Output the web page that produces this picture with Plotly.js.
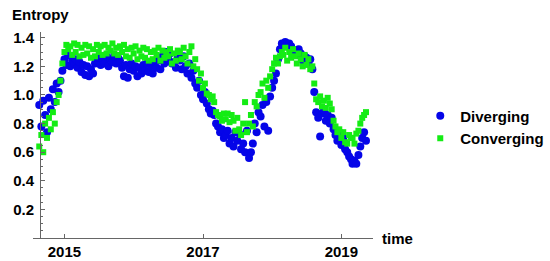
<!DOCTYPE html>
<html>
<head>
<meta charset="utf-8">
<script src="https://cdn.plot.ly/plotly-3.0.1.min.js"></script>
<style>
  body { margin: 0; background: white; }
  #chart { width: 550px; height: 261px; }
</style>
</head>
<body>
<div id="chart"></div>
<script>
// sample dates (shared by both series)
const dates = [
    '2014-08-21',
    '2014-09-01', '2014-09-11', '2014-09-21',
    '2014-10-01', '2014-10-11', '2014-10-21',
    '2014-11-01', '2014-11-11', '2014-11-21',
    '2014-12-01', '2014-12-11', '2014-12-21',
    '2015-01-01', '2015-01-11', '2015-01-21',
    '2015-02-01', '2015-02-11', '2015-02-21',
    '2015-03-01', '2015-03-11', '2015-03-21',
    '2015-04-01', '2015-04-11', '2015-04-21',
    '2015-05-01', '2015-05-11', '2015-05-21',
    '2015-06-01', '2015-06-11', '2015-06-21',
    '2015-07-01', '2015-07-11', '2015-07-21',
    '2015-08-01', '2015-08-11', '2015-08-21',
    '2015-09-01', '2015-09-11', '2015-09-21',
    '2015-10-01', '2015-10-11', '2015-10-21',
    '2015-11-01', '2015-11-11', '2015-11-21',
    '2015-12-01', '2015-12-11', '2015-12-21',
    '2016-01-01', '2016-01-11', '2016-01-21',
    '2016-02-01', '2016-02-11', '2016-02-21',
    '2016-03-01', '2016-03-11', '2016-03-21',
    '2016-04-01', '2016-04-11', '2016-04-21',
    '2016-05-01', '2016-05-11', '2016-05-21',
    '2016-06-01', '2016-06-11', '2016-06-21',
    '2016-07-01', '2016-07-11', '2016-07-21',
    '2016-08-01', '2016-08-11', '2016-08-21',
    '2016-09-01', '2016-09-11', '2016-09-21',
    '2016-10-01', '2016-10-11', '2016-10-21',
    '2016-11-01', '2016-11-11', '2016-11-21',
    '2016-12-01', '2016-12-11', '2016-12-21',
    '2017-01-01', '2017-01-11', '2017-01-21',
    '2017-02-01', '2017-02-11', '2017-02-21',
    '2017-03-01', '2017-03-11', '2017-03-21',
    '2017-04-01', '2017-04-11', '2017-04-21',
    '2017-05-01', '2017-05-11', '2017-05-21',
    '2017-06-01', '2017-06-11', '2017-06-21',
    '2017-07-01', '2017-07-11', '2017-07-21',
    '2017-08-01', '2017-08-11', '2017-08-21',
    '2017-09-01', '2017-09-11', '2017-09-21',
    '2017-10-01', '2017-10-11', '2017-10-21',
    '2017-11-01', '2017-11-11', '2017-11-21',
    '2017-12-01', '2017-12-11', '2017-12-21',
    '2018-01-01', '2018-01-11', '2018-01-21',
    '2018-02-01', '2018-02-11', '2018-02-21',
    '2018-03-01', '2018-03-11', '2018-03-21',
    '2018-04-01', '2018-04-11', '2018-04-21',
    '2018-05-01', '2018-05-11', '2018-05-21',
    '2018-06-01', '2018-06-11', '2018-06-21',
    '2018-07-01', '2018-07-11', '2018-07-21',
    '2018-08-01', '2018-08-11', '2018-08-21',
    '2018-09-01', '2018-09-11', '2018-09-21',
    '2018-10-01', '2018-10-11', '2018-10-21',
    '2018-11-01', '2018-11-11', '2018-11-21',
    '2018-12-01', '2018-12-11', '2018-12-21',
    '2019-01-01', '2019-01-11', '2019-01-21',
    '2019-02-01', '2019-02-11', '2019-02-21',
    '2019-03-01', '2019-03-11', '2019-03-21',
    '2019-04-01', '2019-04-11', '2019-04-21',
    '2019-05-01', '2019-05-11'
];

const diverging = [
    0.93,
    0.78, 0.96, 0.86,  0.74, 0.98, 0.90,  1.04, 0.95, 1.08,  1.02, 1.10, 1.17,
    // 2015
    1.25, 1.21, 1.28,  1.20, 1.24, 1.22,  1.25, 1.19, 1.23,  1.16, 1.21, 1.14,
    1.20, 1.13, 1.18,  1.15, 1.22, 1.24,  1.26, 1.21, 1.25,  1.22, 1.27, 1.20,
    1.25, 1.23, 1.28,  1.22, 1.26, 1.24,  1.19, 1.13, 1.21,  1.12, 1.18, 1.22,
    // 2016
    1.17, 1.20, 1.13,  1.19, 1.15, 1.21,  1.17, 1.22, 1.16,  1.20, 1.15, 1.23,
    1.19, 1.24, 1.18,  1.27, 1.22, 1.30,  1.25, 1.29, 1.22,  1.23, 1.19, 1.26,
    1.24, 1.18, 1.27,  1.20, 1.15, 1.22,  1.12, 1.17, 1.08,  1.05, 1.10, 1.00,
    // 2017
    0.97, 1.02, 0.94,  0.90, 0.87, 0.89,  0.86, 0.80, 0.78,  0.74, 0.76, 0.70,
    0.72, 0.75, 0.66,  0.70, 0.64, 0.74,  0.68, 0.73, 0.62,  0.66, 0.60, 0.75,
    0.56, 0.60, 0.66,  0.80, 0.74, 0.88,  0.85, 0.93, 0.78,  0.95, 0.75, 0.99,
    // 2018
    1.05, 1.10, 1.15,  1.25, 1.32, 1.36,  1.35, 1.37, 1.36,  1.36, 1.34, 1.31,
    1.31, 1.28, 1.32,  1.29, 1.24, 1.27,  1.26, 1.22, 1.25,  1.18, 1.02, 0.88,
    0.84, 0.71, 0.87,  0.89, 0.82, 0.86,  0.80, 0.84, 0.76,  0.72, 0.68, 0.74,
    // 2019
    0.65, 0.70, 0.62,  0.60, 0.57, 0.55,  0.52, 0.54, 0.52,  0.58, 0.64, 0.70,
    0.74, 0.68
];

const converging = [
    0.64,
    0.72, 0.60, 0.80,  0.70, 0.84, 0.76,  0.88, 0.80, 0.95,  1.00, 1.10, 1.22,
    // 2015
    1.30, 1.35, 1.32,  1.34, 1.28, 1.36,  1.30, 1.35, 1.27,  1.33, 1.28, 1.35,
    1.29, 1.34, 1.26,  1.32, 1.27, 1.35,  1.30, 1.34, 1.28,  1.35, 1.29, 1.33,
    1.31, 1.36, 1.29,  1.33, 1.28, 1.34,  1.30, 1.35, 1.27,  1.32, 1.26, 1.33,
    // 2016
    1.29, 1.34, 1.25,  1.31, 1.27, 1.33,  1.26, 1.32, 1.24,  1.30, 1.25, 1.31,
    1.28, 1.33, 1.24,  1.31, 1.26, 1.30,  1.27, 1.32, 1.22,  1.29, 1.24, 1.31,
    1.30, 1.25, 1.33,  1.27, 1.22, 1.30,  1.34, 1.20, 1.25,  1.18, 1.10, 1.15,
    // 2017
    1.05, 1.08, 1.01,  1.00, 0.97, 0.99,  0.95, 0.88, 0.86,  0.85, 0.82, 0.87,
    0.83, 0.87, 0.81,  0.86, 0.82, 0.75,  0.84, 0.76, 0.72,  0.80, 0.95, 0.74,
    0.80, 0.86, 0.78,  0.95, 0.92, 1.00,  1.02, 1.08, 0.98,  1.10, 1.05, 1.13,
    // 2018
    1.18, 1.22, 1.26,  1.22, 1.27, 1.30,  1.28, 1.33, 1.24,  1.30, 1.26, 1.32,
    1.27, 1.22, 1.29,  1.25, 1.20, 1.28,  1.21, 1.25, 1.18,  1.20, 1.08, 0.97,
    0.95, 0.99, 0.92,  0.96, 0.91, 0.98,  0.94, 0.90, 0.82,  0.78, 0.74, 0.76,
    // 2019
    0.70, 0.74, 0.67,  0.66, 0.72, 0.70,  0.70, 0.66, 0.73,  0.75, 0.80, 0.84,
    0.86, 0.88
];

const yearTicks = ['2015-01-01', '2017-01-01', '2019-01-01'];
const yearLabels = ['2015', '2017', '2019'];

const boldFont = { family: 'Liberation Sans, Arial, sans-serif', size: 15, color: '#000', weight: 700 };
const axisGray = '#666';

const traces = [
    {
        x: dates,
        y: diverging,
        name: 'Diverging',
        type: 'scatter',
        mode: 'markers',
        marker: { symbol: 'circle', size: 8, color: '#0505e8' }
    },
    {
        x: dates,
        y: converging,
        name: 'Converging',
        type: 'scatter',
        mode: 'markers',
        marker: { symbol: 'square', size: 6, color: '#14ec14' }
    }
];

const layout = {
    width: 550,
    height: 261,
    // keep the plot box fixed; legend and labels sit in the margins
    margin: { l: 33, r: 177, t: 32, b: 23, autoexpand: false },
    paper_bgcolor: 'white',
    plot_bgcolor: 'white',
    showlegend: true,
    legend: {
        x: 1.139, y: 0.672, xanchor: 'left', yanchor: 'top',
        font: boldFont,
        tracegroupgap: 10,
        bgcolor: 'rgba(0,0,0,0)'
    },
    xaxis: {
        type: 'date',
        range: ['2014-07-19', '2019-06-17'],
        tickmode: 'array',
        tickvals: yearTicks,
        ticktext: yearLabels,
        ticks: 'inside',
        ticklen: 4,
        tickcolor: axisGray,
        showline: true,
        linecolor: axisGray,
        linewidth: 1,
        showgrid: false,
        zeroline: false,
        tickfont: boldFont
    },
    yaxis: {
        range: [0.0005, 1.44],
        anchor: 'free',
        position: 0.0206,
        tickmode: 'linear',
        tick0: 0,
        dtick: 0.2,
        tickformat: '.1f',
        ticks: 'inside',
        ticklen: 4,
        tickcolor: axisGray,
        minor: { dtick: 0.05, ticks: 'inside', ticklen: 2, tickcolor: axisGray },
        ticklabelstandoff: 3,
        showline: true,
        linecolor: axisGray,
        linewidth: 1,
        showgrid: false,
        zeroline: false,
        tickfont: boldFont
    },
    annotations: [
        {
            text: 'Entropy', xref: 'paper', yref: 'paper',
            x: -0.068, y: 1.085, xanchor: 'left', yanchor: 'middle',
            showarrow: false, font: boldFont
        },
        {
            text: 'time', xref: 'paper', yref: 'paper',
            x: 1.021, y: 0, xanchor: 'left', yanchor: 'middle',
            showarrow: false, font: boldFont
        }
    ]
};

Plotly.newPlot('chart', traces, layout, { staticPlot: true, displayModeBar: false });
</script>
</body>
</html>
